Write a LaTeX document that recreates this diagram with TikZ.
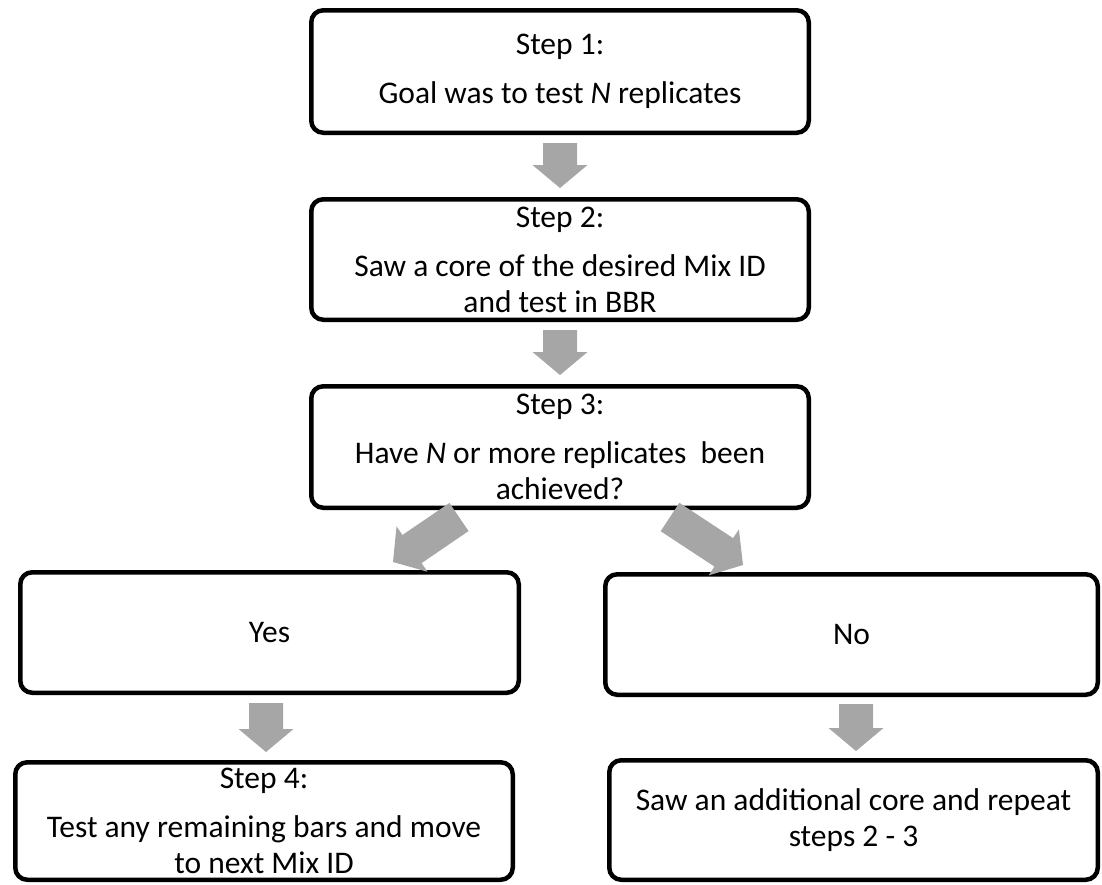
\documentclass[tikz,border=0pt]{standalone}
\usepackage{fontspec}
\setmainfont{Carlito}
\usetikzlibrary{calc}
\definecolor{arrowgray}{HTML}{A6A6A6}
\newcommand\fsz{\fontsize{31.5}{36}\selectfont}
\newcommand\blockarrow[2]{%
  \coordinate (ba-a) at #1;
  \coordinate (ba-b) at #2;
  \coordinate (ba-h) at ($(ba-b)!23pt!(ba-a)$);
  \fill[arrowgray] ($(ba-a)!17pt!90:(ba-b)$) -- ($(ba-h)!17pt!90:(ba-b)$)
     -- ($(ba-h)!27.5pt!90:(ba-b)$) -- (ba-b) -- ($(ba-h)!27.5pt!-90:(ba-b)$)
     -- ($(ba-h)!17pt!-90:(ba-b)$) -- ($(ba-a)!17pt!-90:(ba-b)$) -- cycle;
}
\tikzset{
  box/.style={draw=black, line width=4.5pt, rounded corners=12pt, fill=white,
    align=center, inner sep=0pt, font=\fsz, text=black},
}
\begin{document}
\begin{tikzpicture}[x=1pt,y=-1pt]
\useasboundingbox (0,0) rectangle (1102,884);
\node[box, minimum width=497.5pt, minimum height=122.5pt] (b1) at (560,71.5)
  {Step 1:\\[13pt]Goal was to test \textit{N} replicates};
\node[box, minimum width=497.5pt, minimum height=120.5pt] (b2) at (560,259.5)
  {Step 2:\\[13pt]Saw a core of the desired Mix ID\\and test in BBR};
\node[box, minimum width=497.5pt, minimum height=121.5pt] (b3) at (560,447)
  {Step 3:\\[13pt]Have \textit{N} or more replicates\ \ been\\achieved?};
\node[box, minimum width=498.5pt, minimum height=120.5pt] (yes) at (269.5,632.5) {Yes};
\node[box, minimum width=492.5pt, minimum height=120.5pt] (no) at (851.5,634.5) {No};
\node[box, minimum width=497.5pt, minimum height=117.5pt] (s4) at (264,821)
  {Step 4:\\[13pt]Test any remaining bars and move\\to next Mix ID};
\node[box, minimum width=488.5pt, minimum height=119.5pt] (saw) at (853.5,820)
  {Saw an additional core and repeat\\steps 2 - 3};
\blockarrow{($(b1.south)+(0,8)$)}{($(b2.north)+(0,-9)$)}
\blockarrow{($(b2.south)+(0,8)$)}{($(b3.north)+(0,-9)$)}
\blockarrow{($(b3.south)+(-101,7)$)}{($(yes.north)+(123.5,-8)$)}
\blockarrow{($(b3.south)+(110,7)$)}{($(no.north)+(-108.5,-7)$)}
\blockarrow{($(yes.south)+(-3.5,8)$)}{($(s4.north)+(2,-8)$)}
\blockarrow{($(no.south)+(4.5,7)$)}{($(saw.north)+(2.5,-7)$)}
\end{tikzpicture}
\end{document}
